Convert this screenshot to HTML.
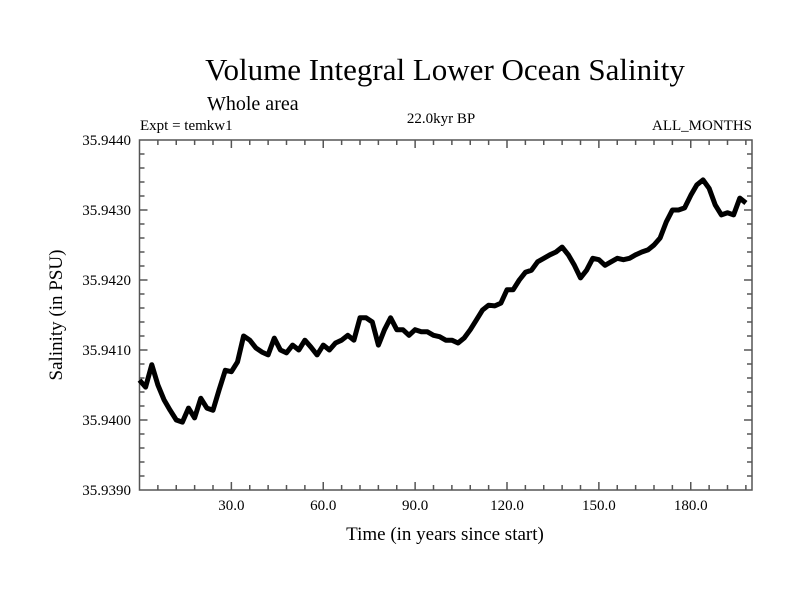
<!DOCTYPE html>
<html><head><meta charset="utf-8"><style>
body{margin:0;background:#fff}
svg{display:block;font-family:"Liberation Serif",serif}
</style></head><body>
<svg id="chart" width="800" height="600" viewBox="0 0 800 600">
<rect width="800" height="600" fill="#fff"/>
<text x="445" y="80" font-size="31" text-anchor="middle">Volume Integral Lower Ocean Salinity</text>
<text x="207" y="110" font-size="20">Whole area</text>
<text x="140" y="130" font-size="15">Expt = temkw1</text>
<text x="441" y="123" font-size="15" text-anchor="middle">22.0kyr BP</text>
<text x="752" y="130" font-size="15" text-anchor="end">ALL_MONTHS</text>
<text transform="translate(62,315) rotate(-90)" font-size="19" text-anchor="middle">Salinity (in PSU)</text>
<text x="445" y="540" font-size="19" text-anchor="middle">Time (in years since start)</text>
<g id="axes"></g>
<g id="series"></g>
</svg>
<script>
const xTicks=[30,60,90,120,150,180];
const xTickLabels=["30.0","60.0","90.0","120.0","150.0","180.0"];
const yTicks=[35.939,35.940,35.941,35.942,35.943,35.944];
const yTickLabels=["35.9390","35.9400","35.9410","35.9420","35.9430","35.9440"];
const years=[];for(let i=0;i<=200;i+=2)years.push(i);
const salinity=[35.94057,35.94047,35.94079,35.94050,35.94029,35.94014,35.94000,35.93997,35.94017,35.94003,
35.94031,35.94017,35.94014,35.94043,35.94071,35.94069,35.94083,35.94120,35.94114,35.94103,
35.94097,35.94093,35.94117,35.94100,35.94096,35.94107,35.94100,35.94114,35.94104,35.94093,
35.94107,35.94100,35.94110,35.94114,35.94121,35.94114,35.94146,35.94146,35.94140,35.94107,
35.94129,35.94146,35.94129,35.94129,35.94121,35.94129,35.94126,35.94126,35.94121,35.94119,
35.94114,35.94114,35.94110,35.94117,35.94129,35.94143,35.94157,35.94164,35.94163,35.94167,
35.94186,35.94186,35.94200,35.94211,35.94214,35.94226,35.94231,35.94236,35.94240,35.94247,
35.94236,35.94221,35.94203,35.94214,35.94231,35.94229,35.94221,35.94226,35.94231,35.94229,
35.94231,35.94236,35.94240,35.94243,35.94250,35.94260,35.94283,35.94300,35.94300,35.94303,
35.94321,35.94336,35.94343,35.94331,35.94307,35.94293,35.94296,35.94293,35.94317,35.94310];
const L=139.5,R=752,T=140,B=490;
const xs=v=>L+(v-0)/(200-0)*(R-L);
const ys=v=>B-(v-35.939)/(35.944-35.939)*(B-T);
const NS="http://www.w3.org/2000/svg";
const ax=document.getElementById('axes');
function mk(tag,attrs,parent){const e=document.createElementNS(NS,tag);for(const k in attrs)e.setAttribute(k,attrs[k]);parent.appendChild(e);return e;}
const frame=mk('rect',{x:L,y:T,width:R-L,height:B-T,fill:'none',stroke:'#555','stroke-width':1.5},ax);


for(let v=6;v<200;v+=6){const X=xs(v);const major=v%30===0;const len=major?8:5;
 mk('line',{x1:X,y1:B,x2:X,y2:B-len,stroke:'#555','stroke-width':1.5},ax);
 mk('line',{x1:X,y1:T,x2:X,y2:T+len,stroke:'#555','stroke-width':1.5},ax);}
for(let i=1;i<25;i++){const v=35.939+i*0.0002;const Y=ys(v);const major=i%5===0;const len=major?8:5;
 mk('line',{x1:L,y1:Y,x2:L+len,y2:Y,stroke:'#555','stroke-width':1.5},ax);
 mk('line',{x1:R,y1:Y,x2:R-len,y2:Y,stroke:'#555','stroke-width':1.5},ax);}
xTicks.forEach((v,i)=>{const t=mk('text',{x:xs(v),y:510,'font-size':15,'text-anchor':'middle'},ax);t.textContent=xTickLabels[i];
 
 });
yTicks.forEach((v,i)=>{const t=mk('text',{x:131,y:ys(v)+5,'font-size':15,'text-anchor':'end'},ax);t.textContent=yTickLabels[i];
 
 });
const pts=years.map((y,i)=>xs(y).toFixed(1)+','+ys(salinity[i]).toFixed(1)).join(' ');
const line=mk('polyline',{points:pts,fill:'none',stroke:'#000','stroke-width':5,'stroke-linejoin':'round'},document.getElementById('series'));


</script>
</body></html>
